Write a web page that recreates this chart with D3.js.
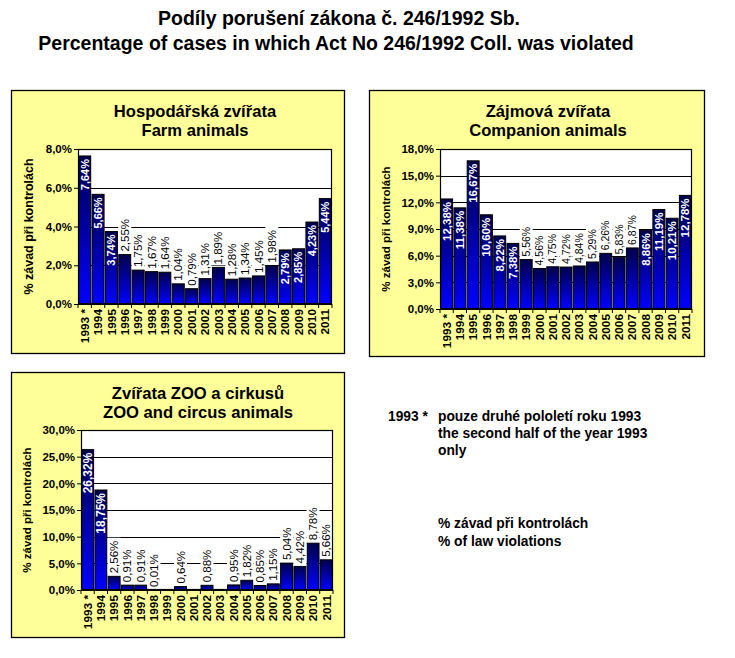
<!DOCTYPE html>
<html><head><meta charset="utf-8">
<script src="https://cdn.jsdelivr.net/npm/d3@7"></script>
<style>
html,body{margin:0;padding:0;background:#fff;}
svg{display:block;font-family:"Liberation Sans",Arial,sans-serif;}
</style></head>
<body>
<svg id="c" width="735" height="658"></svg>
<script>
// ---- data ----
const years = ["1993 *","1994","1995","1996","1997","1998","1999","2000","2001","2002","2003","2004","2005","2006","2007","2008","2009","2010","2011"];
const farmValues = [7.64,5.66,3.74,2.55,1.75,1.67,1.64,1.04,0.79,1.31,1.89,1.28,1.34,1.45,1.98,2.79,2.85,4.23,5.44];
const companionValues = [12.38,11.38,16.67,10.60,8.22,7.38,5.56,4.56,4.75,4.72,4.84,5.29,6.26,5.83,6.87,8.86,11.19,10.21,12.78];
const zooValues = [26.32,18.75,2.56,0.91,0.91,0.01,null,0.64,null,0.88,null,0.95,1.82,0.85,1.15,5.04,4.42,8.78,5.66];
const farmTicks = [0,2,4,6,8];
const companionTicks = [0,3,6,9,12,15,18];
const zooTicks = [0,5,10,15,20,25,30];
const mainTitle = ["Podíly porušení zákona č. 246/1992 Sb.","Percentage of cases in which Act No 246/1992 Coll. was violated"];
const farmTitle = ["Hospodářská zvířata","Farm animals"];
const companionTitle = ["Zájmová zvířata","Companion animals"];
const zooTitle = ["Zvířata ZOO a cirkusů","ZOO and circus animals"];
const yAxisLabel = "% závad při kontrolách";
const noteKey = "1993 *";
const noteLines = ["pouze druhé pololetí roku 1993","the second half of the year 1993","only"];
const legendLines = ["% závad při kontrolách","% of law violations"];

const fmt = v => v.toFixed(2).replace(".", ",") + "%";
const fmtTick = v => v.toFixed(1).replace(".", ",") + "%";

const svg = d3.select("#c");
const defs = svg.append("defs");
const grad = defs.append("linearGradient").attr("id","barGrad")
  .attr("x1",0).attr("y1",0).attr("x2",0).attr("y2",1);
grad.append("stop").attr("offset","0%").attr("stop-color","#00004a");
grad.append("stop").attr("offset","100%").attr("stop-color","#0000ff");

// main title
svg.append("text").attr("x",339).attr("y",25).attr("text-anchor","middle")
  .attr("font-size",19.5).attr("font-weight","bold").text(mainTitle[0]);
svg.append("text").attr("x",336).attr("y",50).attr("text-anchor","middle")
  .attr("font-size",19.5).attr("font-weight","bold").text(mainTitle[1]);

const panels = [
  {frame:[11,90,344,353], plot:[78,149,332,304], title:farmTitle, titleX:195, titleY:116.5,
   values:farmValues, ticks:farmTicks, insideMin:2.7, yLabX:29, yLabSize:12.5, inSize:11, outSize:11.5},
  {frame:[369,90,704,356], plot:[440,149,692,309], title:companionTitle, titleX:548, titleY:116.5,
   values:companionValues, ticks:companionTicks, insideMin:7.0, yLabX:386, yLabSize:11.5, inSize:11.5, outSize:10.5},
  {frame:[11,372,344,637], plot:[81,430,333,590], title:zooTitle, titleX:198, titleY:399,
   values:zooValues, ticks:zooTicks, insideMin:10, yLabX:27, yLabSize:11.5, inSize:12, outSize:11.5}
];

panels.forEach(p => {
  const [fx0,fy0,fx1,fy1] = p.frame;
  const [px0,py0,px1,py1] = p.plot;
  const g = svg.append("g");
  g.append("rect").attr("x",fx0+0.5).attr("y",fy0+0.5).attr("width",fx1-fx0).attr("height",fy1-fy0)
    .attr("fill","#ffff99").attr("stroke","#000").attr("stroke-width",1.3);
  p.title.forEach((t,i)=>{
    g.append("text").attr("x",p.titleX).attr("y",p.titleY+i*19).attr("text-anchor","middle")
      .attr("font-size",16.6).attr("font-weight","bold").text(t);
  });
  const x = d3.scaleBand().domain(years).range([px0,px1]).paddingInner(0.1).paddingOuter(0.05);
  const y = d3.scaleLinear().domain([0,d3.max(p.ticks)]).range([py1,py0]);
  g.append("rect").attr("x",px0).attr("y",py0).attr("width",px1-px0).attr("height",py1-py0).attr("fill","#fff");
  g.selectAll(".grid").data(p.ticks).enter().append("line")
    .attr("x1",px0).attr("x2",px1).attr("y1",d=>Math.round(y(d))+0.5).attr("y2",d=>Math.round(y(d))+0.5)
    .attr("stroke","#000").attr("stroke-width",1);
  const ya = d3.axisLeft(y).tickValues(p.ticks).tickFormat(fmtTick).tickSize(4).tickPadding(2);
  const yg = g.append("g").attr("transform",`translate(${px0},0)`).call(ya);
  yg.select(".domain").remove();
  yg.selectAll("text").attr("font-size",11.5).attr("font-weight","bold").attr("fill","#000")
    .attr("font-family","Liberation Sans, Arial, sans-serif");
  g.append("text").attr("transform",`translate(${p.yLabX},${(py0+py1)/2}) rotate(-90)`)
    .attr("text-anchor","middle").attr("dy","0.35em").attr("font-size",p.yLabSize).attr("font-weight","bold").text(yAxisLabel);

  const data = years.map((yr,i)=>({yr, v:p.values[i]}));
  g.selectAll(".bar").data(data.filter(d=>d.v!==null)).enter().append("rect")
    .attr("x",d=>x(d.yr)).attr("width",x.bandwidth())
    .attr("y",d=>y(d.v)).attr("height",d=>Math.max(0,py1-y(d.v)))
    .attr("fill","url(#barGrad)").attr("stroke","#000").attr("stroke-width",1);

  data.filter(d=>d.v!==null).forEach(d=>{
    const cx = x(d.yr)+x.bandwidth()/2;
    const top = y(d.v);
    if (d.v >= p.insideMin) {
      g.append("text").attr("transform",`translate(${cx},${top+3}) rotate(-90)`)
        .attr("text-anchor","end").attr("dy","0.35em").attr("font-size",p.inSize).attr("font-weight","bold")
        .attr("fill","#fff").text(fmt(d.v));
    } else {
      const t = g.append("text").attr("transform",`translate(${cx},${top-3}) rotate(-90)`)
        .attr("text-anchor","start").attr("dy","0.35em").attr("font-size",p.outSize)
        .attr("fill","#000").text(fmt(d.v));
      const len = t.node().getComputedTextLength();
      g.insert("rect", () => t.node()).attr("x",cx-6.5).attr("y",top-3-len-3).attr("width",13).attr("height",len+4)
        .attr("fill","#fff");
    }
  });
  g.append("rect").attr("x",px0+0.5).attr("y",py0+0.5).attr("width",px1-px0-1).attr("height",py1-py0-1)
    .attr("fill","none").attr("stroke","#000").attr("stroke-width",1.2);
  const step = x.step();
  const bounds = years.map((yr)=>x(yr)-step*x.paddingInner()/2).concat([px1]);
  bounds[0] = px0;
  g.selectAll(".xt").data(bounds).enter().append("line")
    .attr("x1",d=>d).attr("x2",d=>d).attr("y1",py1).attr("y2",py1+4).attr("stroke","#000");
  years.forEach(yr=>{
    const cx = x(yr)+x.bandwidth()/2;
    g.append("text").attr("transform",`translate(${cx},${py1+5}) rotate(-90)`)
      .attr("text-anchor","end").attr("dy","0.35em").attr("font-size",11.8).attr("font-weight","bold").text(yr);
  });
});

svg.append("text").attr("x",388).attr("y",421).attr("font-size",13.8).attr("font-weight","bold").text(noteKey);
noteLines.forEach((t,i)=>svg.append("text").attr("x",438).attr("y",421+i*17).attr("font-size",13.8).attr("font-weight","bold").text(t));
legendLines.forEach((t,i)=>svg.append("text").attr("x",438).attr("y",528+i*18).attr("font-size",13.8).attr("font-weight","bold").text(t));
</script>
</body></html>
